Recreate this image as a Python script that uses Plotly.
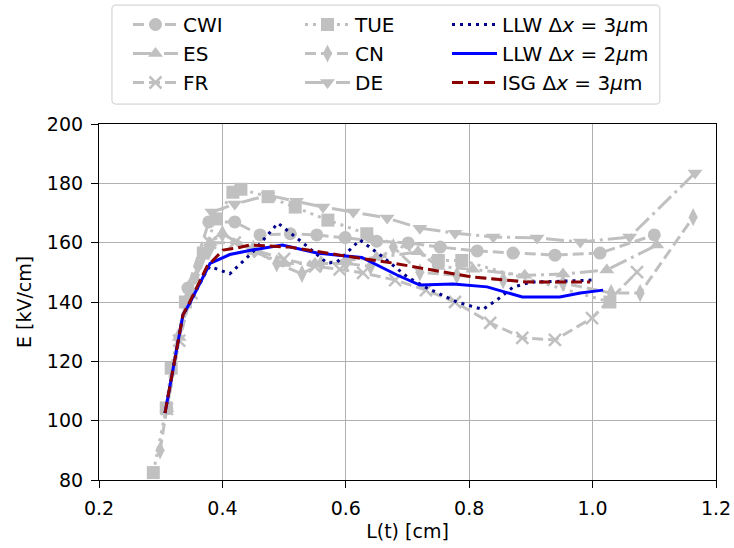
import plotly.graph_objects as go

# ---------------- data ----------------
cwi_x = [0.31, 0.344, 0.378, 0.42, 0.461, 0.51, 0.553, 0.599, 0.65, 0.701, 0.753, 0.813, 0.871, 0.939, 1.012, 1.1]
cwi_y = [104, 144.7, 167, 167, 162.6, 163, 162.6, 161.7, 160.5, 159.9, 158.5, 157.2, 156.5, 155.8, 156.5, 162.6]

es_x = [0.31, 0.33, 0.355, 0.38, 0.40, 0.45, 0.50, 0.55, 0.60, 0.65, 0.717, 0.75, 0.806, 0.89, 0.952, 1.023, 1.104]
es_y = [104, 128, 148, 160, 163, 157, 153, 153, 154, 155, 156.9, 152, 151, 149, 149.4, 150.8, 159.2]

fr_x = [0.31, 0.33, 0.35, 0.38, 0.42, 0.46, 0.50, 0.55, 0.59, 0.628, 0.68, 0.73, 0.777, 0.834, 0.886, 0.939, 0.999, 1.072]
fr_y = [104, 127, 143, 160, 160, 157, 154.5, 152, 151, 149.8, 147.4, 144, 140, 133, 127.9, 127.2, 134.6, 150.1]

tue_x = [0.288, 0.309, 0.317, 0.34, 0.369, 0.39, 0.417, 0.43, 0.474, 0.518, 0.571, 0.634, 0.75, 0.788, 1.028]
tue_y = [82.5, 104.3, 117.7, 140, 156.5, 168, 177, 178, 175.5, 172, 167.6, 163, 154, 154, 140]

cn_x = [0.299, 0.328, 0.345, 0.36, 0.38, 0.40, 0.45, 0.488, 0.529, 0.56, 0.60, 0.64, 0.677, 0.72, 0.78, 0.855, 0.952, 1.03, 1.077, 1.163]
cn_y = [90, 128, 142, 152, 158, 163, 158, 153, 149.5, 153, 153, 152, 158.5, 150, 149, 147.4, 146.4, 143, 143, 168.6]

de_x = [0.383, 0.42, 0.474, 0.52, 0.563, 0.612, 0.667, 0.72, 0.777, 0.839, 0.91, 0.98, 1.06, 1.166]
de_y = [170.3, 173, 176, 174, 172, 170.3, 168.3, 164.9, 163.2, 161.9, 161.6, 160.2, 161.9, 183.5]

llw3_x = [0.307, 0.336, 0.347, 0.375, 0.38, 0.412, 0.45, 0.49, 0.53, 0.57, 0.586, 0.623, 0.66, 0.70, 0.732, 0.78, 0.822, 0.845, 0.871, 0.90, 0.95, 0.999]
llw3_y = [102.6, 135.6, 139.6, 150.8, 152, 149.5, 157, 166.6, 160, 153.1, 153.5, 160.9, 155.2, 148.4, 144.7, 140, 137.5, 140.7, 145, 146.7, 147, 147.4]

llw2_x = [0.307, 0.336, 0.347, 0.375, 0.38, 0.412, 0.45, 0.497, 0.553, 0.60, 0.626, 0.683, 0.72, 0.774, 0.829, 0.886, 0.947, 0.98, 1.017]
llw2_y = [102.6, 135.6, 139.6, 150.8, 153, 156, 157.6, 159.2, 156.5, 155.5, 155.0, 149.1, 145.7, 146.1, 145.1, 141.7, 141.7, 143, 144]

isg_x = [0.307, 0.336, 0.347, 0.375, 0.401, 0.424, 0.445, 0.51, 0.59, 0.677, 0.72, 0.806, 0.894, 0.996]
isg_y = [102.6, 135.6, 140, 152, 157.5, 158.2, 159.2, 158.5, 155.8, 153.1, 151.5, 148.4, 146.7, 146.7]

x_ticks = [0.2, 0.4, 0.6, 0.8, 1.0, 1.2]
y_ticks = [80, 100, 120, 140, 160, 180, 200]

# ---------------- styles ----------------
GRAY = "#c0c0c0"
DASH = "11px,5px"
DASHDOT = "18px,5px,3px,5px"
DOT = "3px,5px"
FONT = "DejaVu Sans"

fig = go.Figure()

def gray_trace(x, y, name, symbol, dash, legend, group):
    marker = dict(symbol=symbol, size=13, color=GRAY)
    if symbol == "x-thin":
        marker = dict(symbol=symbol, size=12, color=GRAY, line=dict(color=GRAY, width=2.5))
    fig.add_trace(go.Scatter(
        x=x, y=y, name=name, mode="lines+markers",
        line=dict(color=GRAY, width=3, dash=dash),
        marker=marker, legend=legend, legendgroup=group))

gray_trace(cwi_x, cwi_y, "CWI", "circle", DASH, "legend", "a1")
gray_trace(es_x, es_y, "ES", "triangle-up", DASHDOT, "legend", "a2")
gray_trace(fr_x, fr_y, "FR", "x-thin", DASH, "legend", "a3")
gray_trace(tue_x, tue_y, "TUE", "square", DOT, "legend2", "b1")
gray_trace(cn_x, cn_y, "CN", "diamond-tall", DASH, "legend2", "b2")
gray_trace(de_x, de_y, "DE", "triangle-down", DASHDOT, "legend2", "b3")

fig.add_trace(go.Scatter(
    x=llw3_x, y=llw3_y, mode="lines", name="LLW Δ<i>x</i> = 3<i>μ</i>m",
    line=dict(color="#00008b", width=3, dash="3px,5px"),
    legend="legend3", legendgroup="c1"))
fig.add_trace(go.Scatter(
    x=llw2_x, y=llw2_y, mode="lines", name="LLW Δ<i>x</i> = 2<i>μ</i>m",
    line=dict(color="#0000ff", width=3),
    legend="legend3", legendgroup="c2"))
fig.add_trace(go.Scatter(
    x=isg_x, y=isg_y, mode="lines", name="ISG Δ<i>x</i> = 3<i>μ</i>m",
    line=dict(color="#8b0000", width=3, dash="11px,5px"),
    legend="legend3", legendgroup="c3"))

W, H = 734, 548
leg_common = dict(
    orientation="v", yanchor="top", xanchor="left",
    xref="container", yref="container", y=1 - 5 / H,
    bgcolor="rgba(0,0,0,0)", borderwidth=0,
    font=dict(family=FONT, size=20, color="black"),
    itemwidth=45, tracegroupgap=11, traceorder="normal",
    itemclick=False, itemdoubleclick=False,
)

# rounded legend frame in paper coordinates
x0, x1, y0, y1 = 0.021, 0.909, 1.056, 1.334
rx, ry = 0.0065, 0.0112
frame_path = (
    f"M {x0+rx},{y0} L {x1-rx},{y0} Q {x1},{y0} {x1},{y0+ry} "
    f"L {x1},{y1-ry} Q {x1},{y1} {x1-rx},{y1} "
    f"L {x0+rx},{y1} Q {x0},{y1} {x0},{y1-ry} "
    f"L {x0},{y0+ry} Q {x0},{y0} {x0+rx},{y0} Z"
)

axis_common = dict(
    showline=True, linecolor="black", linewidth=1.2, mirror=True,
    ticks="outside", ticklen=7, tickwidth=1, tickcolor="black",
    ticklabelstandoff=4,
    showgrid=True, gridcolor="#b0b0b0", gridwidth=1,
    zeroline=False,
    tickfont=dict(family=FONT, size=19, color="black"),
    title_font=dict(family=FONT, size=19, color="black"),
)

fig.update_layout(
    width=W, height=H,
    margin=dict(l=99, r=18, t=124, b=68, autoexpand=False),
    paper_bgcolor="white", plot_bgcolor="white",
    showlegend=True,
    legend=dict(**leg_common, x=128 / W),
    legend2=dict(**leg_common, x=300 / W),
    legend3=dict(**leg_common, x=447 / W),
    shapes=[dict(type="path", xref="paper", yref="paper", path=frame_path,
                 line=dict(color="#cccccc", width=1), fillcolor="white",
                 layer="below")],
    annotations=[dict(text="E [kV/cm]", xref="paper", yref="paper",
                      x=(24 - 99) / 617, y=0.5, xanchor="center", yanchor="middle",
                      textangle=-90, showarrow=False,
                      font=dict(family=FONT, size=19, color="black"))],
    xaxis=dict(**axis_common, range=[0.2, 1.2], tickvals=x_ticks,
               tickformat=".1f", title=dict(text="L(t) [cm]", standoff=6)),
    yaxis=dict(**axis_common, range=[80, 200], tickvals=y_ticks),
)

fig.write_html("out.html",
               config={"displayModeBar": False},
               post_script="document.body.style.margin='0';document.body.style.overflow='hidden';")
